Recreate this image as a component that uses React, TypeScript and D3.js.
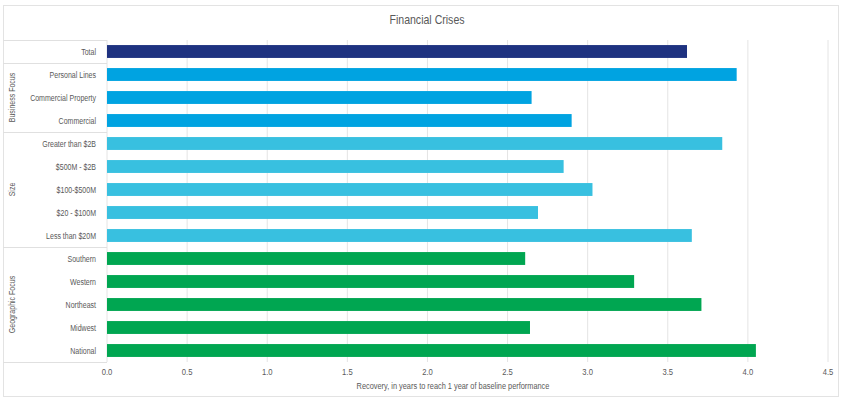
import React from "react";
import * as d3 from "d3";

const categories = [
  "Total",
  "Personal Lines",
  "Commercial Property",
  "Commercial",
  "Greater than $2B",
  "$500M - $2B",
  "$100-$500M",
  "$20 - $100M",
  "Less than $20M",
  "Southern",
  "Western",
  "Northeast",
  "Midwest",
  "National",
];
const groupOf = [
  "", "Business Focus", "Business Focus", "Business Focus",
  "Size", "Size", "Size", "Size", "Size",
  "Geographic Focus", "Geographic Focus", "Geographic Focus", "Geographic Focus", "Geographic Focus",
];
const values = [3.62, 3.93, 2.65, 2.9, 3.84, 2.85, 3.03, 2.69, 3.65, 2.61, 3.29, 3.71, 2.64, 4.05];
const groups = ["", "Business Focus", "Size", "Geographic Focus"];
const xTicks = [0, 0.5, 1, 1.5, 2, 2.5, 3, 3.5, 4, 4.5];

const colorByGroup: Record<string, string> = {
  "": "#1E3280",
  "Business Focus": "#00A3E1",
  Size: "#38C0E0",
  "Geographic Focus": "#00A651",
};

const W = 842;
const H = 402;
const M = { left: 107, right: 14, top: 40, bottom: 40 };
const textColor = "#595959";
const font = "'Liberation Sans', Arial, sans-serif";
const SX = 0.78;

function NText(props: {
  x: number;
  y: number;
  anchor: "start" | "middle" | "end";
  size?: number;
  sx?: number;
  rotate?: number;
  children: React.ReactNode;
}) {
  const { x, y, anchor, size = 9, sx = SX, rotate = 0 } = props;
  return (
    <text
      transform={`translate(${x},${y}) rotate(${rotate}) scale(${sx},1)`}
      textAnchor={anchor}
      fontFamily={font}
      fontSize={size}
      fill={textColor}
    >
      {props.children}
    </text>
  );
}

export default function App() {
  const x = d3.scaleLinear().domain([0, 4.5]).range([M.left, 828]);
  const y = d3
    .scaleBand<string>()
    .domain(categories)
    .range([M.top, H - M.bottom])
    .paddingInner(0.44)
    .paddingOuter(0.22);
  const step = y.step();
  const plotTop = M.top;
  const plotBottom = H - M.bottom;

  const groupExtents = groups.map((g) => {
    const idx = categories.map((c, i) => i).filter((i) => groupOf[i] === g);
    const first = idx[0];
    const last = idx[idx.length - 1];
    return {
      g,
      top: plotTop + first * step,
      bottom: plotTop + (last + 1) * step,
    };
  });

  return (
    <svg width={W} height={H} style={{ position: "absolute", left: 0, top: 0, background: "#fff" }}>
      <rect x={3.5} y={5.5} width={835} height={391} fill="#fff" stroke="#E3E3E3" />
      <NText x={427} y={24} anchor="middle" size={12} sx={0.88}>
        Financial Crises
      </NText>
      {xTicks.map((t) => (
        <line key={"g" + t} x1={x(t)} x2={x(t)} y1={plotTop} y2={plotBottom} stroke="#E4E4E4" strokeWidth={1} />
      ))}
      <line x1={3} x2={x(0)} y1={plotTop + 0.5} y2={plotTop + 0.5} stroke="#E0E0E0" />
      {groupExtents.map((e) => (
        <line key={"sep" + e.g} x1={3} x2={x(0)} y1={e.bottom + 0.5} y2={e.bottom + 0.5} stroke="#E0E0E0" />
      ))}
      {groupExtents
        .filter((e) => e.g !== "")
        .map((e) => (
          <NText key={"gl" + e.g} x={15} y={(e.top + e.bottom) / 2} anchor="middle" rotate={-90}>
            {e.g}
          </NText>
        ))}
      {categories.map((c, i) => (
        <g key={c}>
          <rect
            x={x(0)}
            y={y(c)!}
            width={x(values[i]) - x(0)}
            height={y.bandwidth()}
            fill={colorByGroup[groupOf[i]]}
          />
          <NText x={96} y={y(c)! + y.bandwidth() / 2 + 3} anchor="end">
            {c}
          </NText>
        </g>
      ))}
      {xTicks.map((t) => (
        <NText key={"t" + t} x={x(t)} y={375} anchor="middle" sx={0.85}>
          {d3.format(".1f")(t)}
        </NText>
      ))}
      <NText x={453} y={389} anchor="middle" sx={0.82}>
        Recovery, in years to reach 1 year of baseline performance
      </NText>
    </svg>
  );
}
